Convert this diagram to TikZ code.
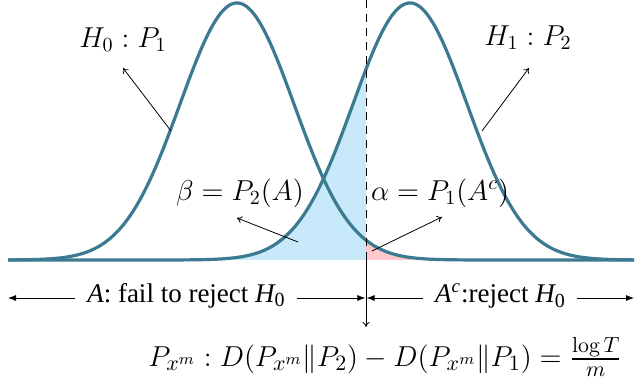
\documentclass[tikz,border=0pt]{standalone}
\usepackage{fontspec}
\usepackage{amsmath}
\newfontfamily\timesfont{Liberation Serif}
\usetikzlibrary{arrows.meta}
\definecolor{curvecol}{RGB}{60,122,146}
\definecolor{betafill}{RGB}{199,233,250}
\definecolor{alphafill}{RGB}{255,200,205}
\tikzset{
  gcurve/.style={draw=curvecol,line width=1.6pt},
  thinarrow/.style={-{To[length=2.5pt,width=3.5pt]},line width=0.4pt},
  spanarrow/.style={-{Latex[length=4pt,width=3pt]},line width=0.4pt},
  lbl/.style={inner sep=1pt,font=\fontsize{14.4}{17}\selectfont},
  spanlbl/.style={inner sep=1pt,font=\timesfont\fontsize{13.5}{16}\selectfont},
}
\begin{document}
\begin{tikzpicture}[x=0.5pt,y=-0.5pt,
  declare function={gl(\t)=260-257*exp(-0.5*((\t-237)/57)^2);
                    gr(\t)=260-257*exp(-0.5*((\t-410)/57)^2);}]
\useasboundingbox (0,0) rectangle (642,383);
% fills
\fill[betafill] (8,260) -- plot[domain=8:366,samples=150] (\x,{gr(\x)}) -- (366,260) -- cycle;
\fill[alphafill] (366,260) -- plot[domain=366:634,samples=150] (\x,{gl(\x)}) -- (634,260) -- cycle;
% curves
\draw[gcurve] plot[domain=8:634,samples=300,smooth] (\x,{gl(\x)});
\draw[gcurve] plot[domain=8:634,samples=300,smooth] (\x,{gr(\x)});
% threshold
\coordinate (ttop) at (366,0);
\coordinate (tbase) at (366,260);
\coordinate (tbot) at (366,327);
\draw[line width=0.5pt,dash pattern=on 4pt off 3pt] (ttop) -- (tbase);
\draw[thinarrow] (tbase) -- (tbot);
% labels
\node[lbl] (h0) at (123,40) {$H_0 : P_1$};
\node[lbl] (h1) at (528,38) {$H_1 : P_2$};
\node[lbl] (beta) at (240,193) {$\beta = P_2(A)$};
\node[lbl] (alpha) at (440,193) {$\alpha = P_1(A^c)$};
\coordinate (h0s) at (171,131);
\coordinate (h0e) at (123,68);
\coordinate (h1s) at (482,131);
\coordinate (h1e) at (529,68);
\coordinate (bs) at (298,242);
\coordinate (be) at (237,218);
\coordinate (as) at (372,251);
\coordinate (ae) at (442,217);
\draw[thinarrow] (h0s) -- (h0e);
\draw[thinarrow] (h1s) -- (h1e);
\draw[thinarrow] (bs) -- (be);
\draw[thinarrow] (as) -- (ae);
% spans
\node[spanlbl] (spanA) at (186,296) {{\itshape A}: fail to reject {\itshape H}\raisebox{-0.35ex}{\fontsize{10}{11}\selectfont 0}};
\node[spanlbl] (spanAc) at (500,296) {{\itshape A}\textsuperscript{\itshape c}:reject {\itshape H}\raisebox{-0.35ex}{\fontsize{10}{11}\selectfont 0}};
\coordinate (sl) at (8,298);
\coordinate (sm) at (366,298);
\coordinate (sr) at (634,298);
\draw[spanarrow] ([xshift=-5pt]spanA.west |- sm) -- (sl);
\draw[spanarrow] ([xshift=5pt]spanA.east |- sm) -- ([xshift=-0.3pt]sm);
\draw[spanarrow] ([xshift=-5pt]spanAc.west |- sm) -- ([xshift=0.3pt]sm);
\draw[spanarrow] ([xshift=5pt]spanAc.east |- sm) -- (sr);
% formula
\node[lbl,font=\fontsize{15.5}{18}\selectfont] (form) at (385,357) {$P_{x^m} : D(P_{x^m}\|P_2) - D(P_{x^m}\|P_1) = \frac{\log T}{m}$};
\end{tikzpicture}
\end{document}
